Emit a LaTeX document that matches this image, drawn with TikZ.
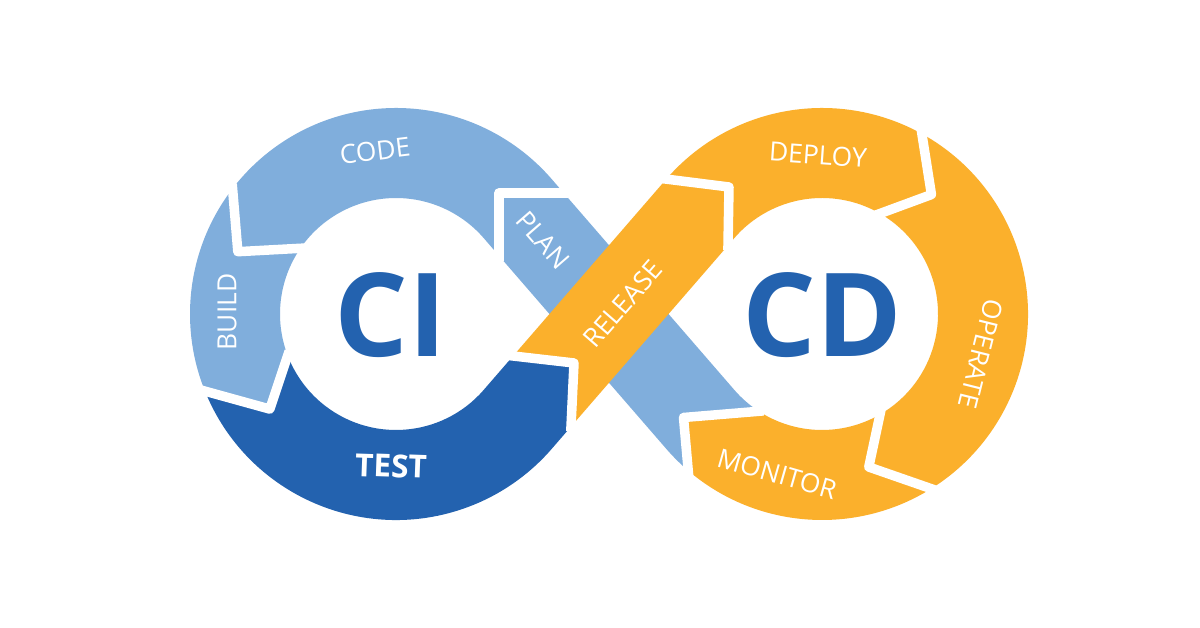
\documentclass[tikz,border=0pt]{standalone}
\usepackage{fontspec}
\setmainfont{Open Sans}
\usepackage{tikz}
\usetikzlibrary{calc}
\definecolor{ltblue}{HTML}{80AEDC}
\definecolor{dkblue}{HTML}{2362AF}
\definecolor{orng}{HTML}{FBB02C}
\tikzstyle{gapline} = [draw=white, line width=0.19cm, line join=round, line cap=rect]

\begin{document}
\begin{tikzpicture}[x=0.02cm, y=0.02cm,
steptxt/.style={text=white, font=\fontsize{15}{15}\selectfont, inner sep=0pt},
bigtxt/.style={text=dkblue, font=\fontsize{66}{66}\selectfont\bfseries, inner sep=0pt},]
\fill[white] (0,0) rectangle (1200,628);
\useasboundingbox (0,0) rectangle (1200,628);
\coordinate (ci) at (396,314);
\coordinate (cd) at (822,314);
\coordinate (po) at ($(ci)+(40.9:206)$);
\coordinate (pi) at ($(ci)+(40.9:116)$);
\coordinate (ao) at ($(ci)+(-40.9:206)$);
\coordinate (ai) at ($(ci)+(-40.9:116)$);
\coordinate (bo) at ($(cd)+(139.1:206)$);
\coordinate (bi) at ($(cd)+(139.1:116)$);
\coordinate (qo) at ($(cd)+(220.9:206)$);
\coordinate (qi) at ($(cd)+(220.9:116)$);
\coordinate (j1o) at (563.7,435);
\coordinate (j1c) at (499,435);
\coordinate (j1i) at (499,372.2);
\coordinate (j2o) at ($(ci)+(142.5:206)$);
\coordinate (j2c) at ($(ci)+(158.5:170)$);
\coordinate (j2i) at ($(ci)+(145.5:116)$);
\coordinate (j3o) at ($(ci)+(202:206)$);
\coordinate (j3c) at ($(ci)+(217:158)$);
\coordinate (j3i) at ($(ci)+(201:116)$);
\coordinate (j4o) at (571,201.4);
\coordinate (j4c) at (574,265);
\coordinate (j4i) at (513.1,272);
\coordinate (j5c) at (729,441);
\coordinate (j5r) at (728,382.6);
\coordinate (j6o) at ($(cd)+(61:206)$);
\coordinate (j6c) at ($(cd)+(47.5:162)$);
\coordinate (j6i) at ($(cd)+(60:116)$);
\coordinate (j7o) at ($(cd)+(-58:206)$);
\coordinate (j7c) at ($(cd)+(-73:160)$);
\coordinate (j7i) at ($(cd)+(-60:116)$);
\coordinate (j8o) at ($(cd)+(-130.5:206)$);
\coordinate (j8c) at (683.5,210.5);
\coordinate (j8i) at ($(cd)+(-123:116)$);
\fill[ltblue] (j1o) -- (j1c) -- (j1i) -- (qo) arc[start angle=220.9, end angle=229.5, radius=206] -- (j8c) -- (j8i) arc[start angle=237, end angle=220.9, radius=116] -- cycle;
\fill[ltblue] (j1i) -- (j1c) -- (j1o) -- (po) arc[start angle=40.9, end angle=142.5, radius=206] -- (j2c) -- (j2i) arc[start angle=145.5, end angle=40.9, radius=116] -- cycle;
\fill[ltblue] (j2o) -- (j2c) -- (j2i) arc[start angle=145.5, end angle=201, radius=116] -- (j3c) -- (j3o) arc[start angle=202, end angle=142.5, radius=206] -- cycle;
\fill[dkblue] (j3i) -- (j3c) -- (j3o) arc[start angle=202, end angle=319.1, radius=206] -- (j4o) -- (j4c) -- (j4i) -- (ai) arc[start angle=319.1, end angle=201, radius=116] -- cycle;
\fill[orng] (bo) -- (j5c) -- (j5r) -- (bi) arc[start angle=139.1, end angle=60, radius=116] -- (j6c) -- (j6o) arc[start angle=61, end angle=139.1, radius=206] -- cycle;
\fill[orng] (j6i) -- (j6c) -- (j6o) arc[start angle=61, end angle=-58, radius=206] -- (j7c) -- (j7i) arc[start angle=-60, end angle=60, radius=116] -- cycle;
\fill[orng] (j7i) -- (j7c) -- (j7o) arc[start angle=-58, end angle=-130.5, radius=206] -- (j8c) -- (j8i) arc[start angle=-123, end angle=-60, radius=116] -- cycle;
\fill[orng] (j4i) -- (j4c) -- (j4o) -- (j5r) -- (j5c) -- (bo) -- cycle;
\draw[gapline] (j1o) -- (j1c) -- (j1i);
\draw[gapline] (j2o) -- (j2c) -- (j2i);
\draw[gapline] (j3o) -- (j3c) -- (j3i);
\draw[gapline] (j4o) -- (j4c) -- (j4i);
\draw[gapline] (bo) -- (j5c) -- (j5r);
\draw[gapline] (j6o) -- (j6c) -- (j6i);
\draw[gapline] (j7o) -- (j7c) -- (j7i);
\draw[gapline] (j8o) -- (j8c) -- (j8i);
\node[steptxt, rotate=7] (codetxt) at (375,477) {CODE};
\node[steptxt, rotate=90] (buildtxt) at (227,316) {BUILD};
\node[steptxt, rotate=-2, font=\fontsize{18}{18}\selectfont\bfseries] (testtxt) at (391,162) {TEST};
\node[steptxt, rotate=-49] (plantxt) at (543,388) {PLAN};
\node[steptxt, rotate=49] (releasetxt) at (623,324) {RELEASE};
\node[steptxt, rotate=-4] (deploytxt) at (818,473) {DEPLOY};
\node[steptxt, rotate=-104] (operatetxt) at (981,274) {OPERATE};
\node[steptxt, rotate=-16] (monitortxt) at (777,154) {MONITOR};
\node[bigtxt] (citxt) at (391,313) {CI};
\node[bigtxt] (cdtxt) at (822,313) {CD};
\end{tikzpicture}
\end{document}
